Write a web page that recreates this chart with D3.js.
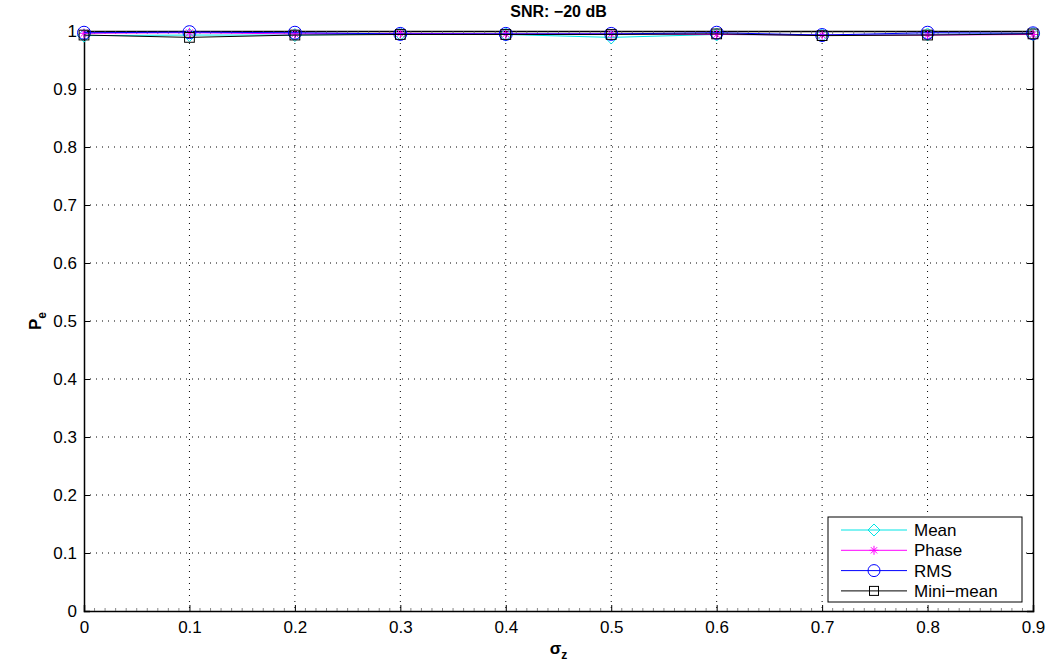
<!DOCTYPE html>
<html><head><meta charset="utf-8">
<script src="https://cdn.jsdelivr.net/npm/d3@7"></script>
<style>body{margin:0;background:#fff;} text{font-family:"Liberation Sans",Arial,sans-serif;}</style>
</head><body>
<svg id="c" width="1052" height="666"></svg>
<script>
const sigma = [0, 0.1, 0.2, 0.3, 0.4, 0.5, 0.6, 0.7, 0.8, 0.9];
const meanVals = [0.992, 0.993, 0.993, 0.995, 0.994, 0.989, 0.994, 0.993, 0.994, 0.995];
const phaseVals = [0.996, 0.997, 0.995, 0.996, 0.995, 0.995, 0.994, 0.993, 0.993, 0.994];
const rmsVals = [0.997, 0.998, 0.997, 0.995, 0.995, 0.995, 0.997, 0.993, 0.997, 0.996];
const miniVals = [0.993, 0.989, 0.993, 0.994, 0.994, 0.994, 0.995, 0.992, 0.993, 0.995];
const xTicks = [0, 0.1, 0.2, 0.3, 0.4, 0.5, 0.6, 0.7, 0.8, 0.9];
const yTicks = [0, 0.1, 0.2, 0.3, 0.4, 0.5, 0.6, 0.7, 0.8, 0.9, 1];
const seriesNames = ["Mean", "Phase", "RMS", "Mini\u2212mean"];

const svg = d3.select("#c");
const L = 84, R = 1033, T = 31, B = 611;
const x = d3.scaleLinear().domain([0, 0.9]).range([L, R]);
const y = d3.scaleLinear().domain([0, 1]).range([B, T]);

// grid
const g = svg.append("g");
g.selectAll(".vg").data(xTicks.slice(1, -1)).join("line")
  .attr("x1", d => x(d)).attr("x2", d => x(d)).attr("y1", T).attr("y2", B)
  .attr("stroke", "#000").attr("stroke-width", 1).attr("stroke-dasharray", "1,5");
g.selectAll(".hg").data(yTicks.slice(1, -1)).join("line")
  .attr("y1", d => y(d)).attr("y2", d => y(d)).attr("x1", L).attr("x2", R)
  .attr("stroke", "#000").attr("stroke-width", 1).attr("stroke-dasharray", "1,5");

// axes
const fmt = d => d === 0 ? "0" : (d === 1 ? "1" : d3.format(".1f")(d));
const xa = d3.axisBottom(x).tickValues(xTicks).tickFormat(fmt).tickSize(-6).tickPadding(8);
const ya = d3.axisLeft(y).tickValues(yTicks).tickFormat(fmt).tickSize(-6).tickPadding(7);
const gx = svg.append("g").attr("transform", `translate(0,${B})`).call(xa);
const gy = svg.append("g").attr("transform", `translate(${L},0)`).call(ya);
const gx2 = svg.append("g").attr("transform", `translate(0,${T})`).call(d3.axisTop(x).tickValues(xTicks).tickFormat("").tickSize(-6));
const gy2 = svg.append("g").attr("transform", `translate(${R},0)`).call(d3.axisRight(y).tickValues(yTicks).tickFormat("").tickSize(-6));
[gx, gy, gx2, gy2].forEach(a => {
  a.select(".domain").attr("stroke", "#000").attr("stroke-width", 1.5);
  a.selectAll(".tick line").attr("stroke", "#000");
  a.selectAll("text").attr("font-size", 17).attr("fill", "#000").style("font-family", "Liberation Sans, Arial, sans-serif");
});
gx.selectAll("text").attr("dy", "0.85em");
// minor ticks on x axis
const minor = d3.range(0, 0.9001, 0.01).filter(v => Math.abs(v * 10 - Math.round(v * 10)) > 1e-6);
svg.append("g").selectAll("line").data(minor).join("line")
  .attr("x1", d => x(d)).attr("x2", d => x(d)).attr("y1", B).attr("y2", B - 3)
  .attr("stroke", "#555").attr("stroke-width", 0.7);
svg.append("g").selectAll("line").data(minor).join("line")
  .attr("x1", d => x(d)).attr("x2", d => x(d)).attr("y1", T).attr("y2", T + 3)
  .attr("stroke", "#555").attr("stroke-width", 0.7);

// series
const series = [
  {name: seriesNames[0], vals: meanVals, color: "#00e5e5", marker: "diamond"},
  {name: seriesNames[1], vals: phaseVals, color: "#ff00ff", marker: "star"},
  {name: seriesNames[2], vals: rmsVals, color: "#0000ff", marker: "circle"},
  {name: seriesNames[3], vals: miniVals, color: "#000000", marker: "square"}
];
function drawMarker(sel, type, color, size) {
  const s = size;
  if (type === "diamond") {
    sel.append("path").attr("d", `M0,${-s}L${s},0L0,${s}L${-s},0Z`).attr("fill", "none").attr("stroke", color).attr("stroke-width", 1);
  } else if (type === "circle") {
    sel.append("circle").attr("r", s).attr("fill", "none").attr("stroke", color).attr("stroke-width", 1);
  } else if (type === "square") {
    const h = s * 0.75;
    sel.append("rect").attr("x", -h).attr("y", -h).attr("width", 2 * h).attr("height", 2 * h).attr("fill", "none").attr("stroke", color).attr("stroke-width", 1);
  } else if (type === "star") {
    const h = s * 0.75;
    sel.append("path").attr("d", `M${-h},0L${h},0M0,${-h}L0,${h}M${-h * 0.7},${-h * 0.7}L${h * 0.7},${h * 0.7}M${-h * 0.7},${h * 0.7}L${h * 0.7},${-h * 0.7}`)
      .attr("stroke", color).attr("stroke-width", 1).attr("fill", "none");
  }
}
const line = d3.line().x(d => x(d[0])).y(d => y(d[1]));
series.forEach(s => {
  const pts = sigma.map((v, i) => [v, s.vals[i]]);
  svg.append("path").attr("d", line(pts)).attr("fill", "none").attr("stroke", s.color).attr("stroke-width", 1);
  pts.forEach(p => {
    const m = svg.append("g").attr("transform", `translate(${x(p[0])},${y(p[1])})`);
    drawMarker(m, s.marker, s.color, 6.5);
  });
});

// title & labels
svg.append("text").attr("x", (L + R) / 2).attr("y", 17).attr("text-anchor", "middle")
  .attr("font-size", 16).attr("font-weight", "bold").text("SNR: \u221220 dB");
const yl = svg.append("text").attr("transform", `translate(41,${(T + B) / 2}) rotate(-90)`).attr("text-anchor", "middle")
  .attr("font-size", 17).attr("font-weight", "bold");
yl.append("tspan").text("P");
yl.append("tspan").attr("font-size", 12).attr("dy", 5).text("e");
const xl = svg.append("text").attr("x", (L + R) / 2).attr("y", 654).attr("text-anchor", "middle")
  .attr("font-size", 17).attr("font-weight", "bold");
xl.append("tspan").text("\u03c3");
xl.append("tspan").attr("font-size", 12).attr("dy", 5).text("z");

// legend
const lx = 828, ly = 517, lw = 194, lh = 85;
svg.append("rect").attr("x", lx).attr("y", ly).attr("width", lw).attr("height", lh)
  .attr("fill", "#fff").attr("stroke", "#000").attr("stroke-width", 1);
series.forEach((s, i) => {
  const yy = ly + 13 + i * 20.3;
  svg.append("line").attr("x1", lx + 13).attr("x2", lx + 79).attr("y1", yy).attr("y2", yy)
    .attr("stroke", s.color).attr("stroke-width", 1);
  const m = svg.append("g").attr("transform", `translate(${lx + 46},${yy})`);
  drawMarker(m, s.marker, s.color, 6);
  svg.append("text").attr("x", lx + 86).attr("y", yy + 6).attr("font-size", 17).text(s.name);
});
</script>
</body></html>
